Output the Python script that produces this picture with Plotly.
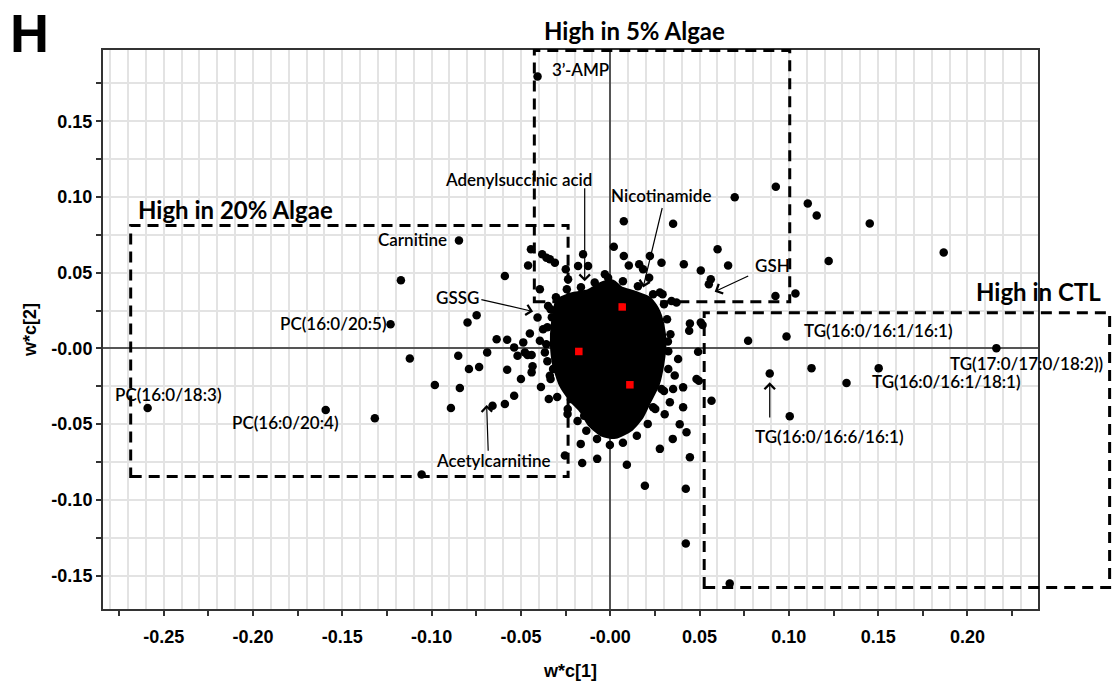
import plotly.graph_objects as go

# ---------------- data ----------------
# individual loadings (w*c[1], w*c[2])
pt_x = [-0.0407, -0.0847, -0.1172, -0.1230, -0.2590, -0.1593, -0.1318, -0.1056, -0.1122, -0.0982,
        -0.0892, -0.0842, -0.0799, -0.0748, -0.0636, -0.0577, -0.0851, -0.0689, -0.0791, -0.0734,
        -0.0577, -0.0500, -0.0590, -0.0538, -0.0450, -0.0394, -0.0538, -0.0519, -0.0463, -0.0435,
        -0.0487, -0.0407, -0.0344, -0.0254, -0.0165, -0.0157, -0.0073, -0.0239, -0.0146, -0.0165,
        -0.0114, -0.0221, -0.0338, -0.0320, -0.0366, -0.0659, -0.0444, -0.0381, -0.0357, -0.0338,
        -0.0460, -0.0590, -0.0310, -0.0249, -0.0152, -0.0180, -0.0124, -0.0394, -0.0236, -0.0030,
        -0.0012, 0.0020, 0.0076, 0.0076, 0.0104, 0.0162, 0.0184, 0.0222, 0.0218, 0.0287,
        0.0352, 0.0412, 0.0507, 0.0563, 0.0552, 0.0601, 0.0660, 0.0697, 0.0278, 0.0293,
        0.0343, 0.0371, 0.0446, 0.0442, 0.0507, 0.0517, 0.0772, 0.0492, 0.0380, 0.0483,
        0.0567, 0.0408, 0.0334, 0.0352, 0.0287, 0.0240, 0.0072, -0.0440, -0.0478, -0.0440,
        -0.0348, 0.0925, 0.1037, 0.1223, 0.0987, 0.2162, 0.0893, 0.1127, 0.1503, 0.1323,
        0.1005, 0.0408, 0.0496, 0.0427, 0.0446, 0.0927, 0.1106, 0.1156, 0.1453, 0.1867,
        0.0194, 0.0423, 0.0669, 0.0423, 0.0093, 0.0278, 0.0350, 0.0323, 0.0361, 0.0305, 0.0389]
pt_y = [0.1795, 0.0713, 0.0450, 0.0160, -0.0393, -0.0406, -0.0461, -0.0832, -0.0066, -0.0242,
        -0.0393, -0.0261, 0.0171, 0.0219, 0.0061, 0.0057, -0.0049, -0.0026, -0.0136, -0.0123,
        -0.0141, -0.0202, -0.0367, -0.0312, 0.0099, 0.0050, 0.0007, -0.0049, -0.0044, -0.0118,
        0.0040, 0.0204, -0.0334, -0.0707, -0.0630, -0.0757, -0.0729, -0.0433, -0.0444, -0.0268,
        -0.0323, -0.0334, -0.0180, -0.0136, -0.0026, -0.0378, 0.0654, 0.0621, 0.0599, 0.0588,
        0.0548, 0.0478, 0.0566, 0.0522, 0.0621, 0.0544, 0.0544, 0.0390, 0.0456, 0.0489,
        0.0467, 0.0671, 0.0840, 0.0610, 0.0548, 0.0555, 0.0522, 0.0610, 0.0467, 0.0566,
        0.0823, 0.0555, 0.0515, 0.0456, 0.0423, 0.0654, 0.0548, 0.0998, 0.0369, 0.0357,
        0.0313, 0.0303, 0.0165, 0.0116, 0.0171, 0.0155, 0.0050, -0.0022, -0.0070, -0.0202,
        -0.0345, -0.0388, -0.0355, -0.0268, -0.0268, -0.0388, -0.0411, -0.0158, -0.0026, -0.0044,
        0.0280, 0.0346, 0.0362, 0.0577, 0.0079, 0.0002, -0.0165, -0.0130, -0.0130, -0.0228,
        -0.0448, -0.0257, -0.0213, -0.0553, -0.0718, 0.1068, 0.0957, 0.0878, 0.0825, 0.0634,
        -0.0906, -0.1288, -0.1552, -0.0926, -0.0768, -0.0663, -0.0597, 0.0046, -0.0178, -0.0434, -0.0500]

# loadings crowded around the edge of the dense core
fringe_x = [-0.0334, -0.0304, -0.0243, -0.0164, -0.0087, 0.0071, 0.0155, 0.0240, 0.0301, 0.0318,
            0.0337, 0.0325, 0.0325, 0.0301, 0.0252, 0.0210, 0.0149, 0.0071, -0.0002, -0.0074,
            -0.0134, -0.0183, -0.0238, -0.0297, -0.0334, -0.0352, -0.0358, -0.0352, -0.0327, -0.0376,
            -0.0388]
fringe_y = [0.0259, 0.0338, 0.0390, 0.0404, 0.0436, 0.0443, 0.0410, 0.0357, 0.0292, 0.0193,
            0.0094, -0.0018, -0.0136, -0.0281, -0.0400, -0.0498, -0.0577, -0.0623, -0.0637, -0.0597,
            -0.0544, -0.0479, -0.0400, -0.0321, -0.0202, -0.0084, 0.0028, 0.0140, 0.0206, 0.0127,
            -0.0255]

# outline of the dense, fully overlapping core of loadings
core_x = [-0.0291, -0.0217, -0.0124, -0.0044, 0.0011, 0.0060, 0.0132, 0.0214, 0.0257, 0.0286,
          0.0298, 0.0286, 0.0261, 0.0214, 0.0170, 0.0110, 0.0030, -0.0044, -0.0112, -0.0155,
          -0.0217, -0.0273, -0.0309, -0.0321, -0.0316]
core_y = [0.0311, 0.0351, 0.0371, 0.0423, 0.0436, 0.0390, 0.0364, 0.0325, 0.0259, 0.0160,
          0.0028, -0.0103, -0.0235, -0.0347, -0.0452, -0.0531, -0.0577, -0.0564, -0.0498, -0.0413,
          -0.0334, -0.0235, -0.0103, 0.0028, 0.0160]

# class scores (red squares)
class_x = [0.0067, -0.0176, 0.0110]
class_y = [0.0274, -0.0020, -0.0240]

# ticks
x_tickvals = [-0.275, -0.25, -0.225, -0.2, -0.175, -0.15, -0.125, -0.1, -0.075, -0.05, -0.025,
              0.0, 0.025, 0.05, 0.075, 0.1, 0.125, 0.15, 0.175, 0.2, 0.225]
x_ticktext = ["", "-0.25", "", "-0.20", "", "-0.15", "", "-0.10", "", "-0.05", "",
              "-0.00", "", "0.05", "", "0.10", "", "0.15", "", "0.20", ""]
y_tickvals = [-0.15, -0.125, -0.1, -0.075, -0.05, -0.025, 0.0, 0.025, 0.05, 0.075, 0.1, 0.125, 0.15, 0.175]
y_ticktext = ["-0.15", "", "-0.10", "", "-0.05", "", "-0.00", "", "0.05", "", "0.10", "", "0.15", ""]

# metabolite labels: text, left-edge x, centre y (data units)
label_text = ["3\u2019-AMP", "Adenylsuccinic acid", "Nicotinamide", "Carnitine", "GSSG", "GSH",
              "PC(16:0/20:5)", "PC(16:0/18:3)", "PC(16:0/20:4)", "Acetylcarnitine",
              "TG(16:0/16:1/16:1)", "TG(17:0/17:0/18:2))", "TG(16:0/16:1/18:1)", "TG(16:0/16:6/16:1)"]
label_x = [-0.0338, -0.0937, -0.0008, -0.1312, -0.0987, 0.0798,
           -0.1862, -0.2783, -0.2128, -0.0987,
           0.1072, 0.1889, 0.1453, 0.0798]
label_y = [0.1839, 0.1115, 0.1009, 0.0720, 0.0338, 0.0548,
           0.0167, -0.0307, -0.0492, -0.0742,
           0.0120, -0.0097, -0.0215, -0.0584]

# arrows: tail -> tip (data units)
arrow_tail_x = [-0.0143, 0.0293, 0.0781, -0.0730, 0.0893, -0.0683]
arrow_tail_y = [0.1068, 0.0937, 0.0483, 0.0325, -0.0465, -0.0685]
arrow_tip_x = [-0.0143, 0.0184, 0.0585, -0.0432, 0.0893, -0.0692]
arrow_tip_y = [0.0443, 0.0402, 0.0375, 0.0244, -0.0224, -0.0373]

# highlighted regions: name, x0, x1, y0, y1 (data units)
region_name = ["High in 20% Algae", "High in 5% Algae", "High in CTL"]
region_x0 = [-0.2685, -0.0425, 0.0526]
region_x1 = [-0.0236, 0.1005, 0.2796]
region_y0 = [-0.0845, 0.0308, -0.1578]
region_y1 = [0.0812, 0.1966, 0.0236]
region_title_x = [-0.2655, 0.0138, 0.2035]
region_title_y = [0.0917, 0.2102, 0.0377]
region_title_anchor = ["left", "center", "left"]

# ---------------- figure ----------------
X0, X1 = -0.284, 0.2395
Y0, Y1 = -0.172, 0.197
L, R, T, B = 103, 82, 50, 79
W, H = 1120, 690
PW, PH = W - L - R, H - T - B


def xp(x):
    return (x - X0) / (X1 - X0)


def yp(y):
    return (y - Y0) / (Y1 - Y0)


fig = go.Figure()

fig.add_trace(go.Scatter(
    x=core_x + core_x[:1], y=core_y + core_y[:1], mode="lines", fill="toself",
    fillcolor="black", line=dict(color="black", width=6, shape="spline", smoothing=0.6),
    hoverinfo="skip"))

fig.add_trace(go.Scatter(
    x=pt_x + fringe_x, y=pt_y + fringe_y, mode="markers",
    marker=dict(symbol="circle", size=8.5, color="black", line=dict(width=0))))

fig.add_trace(go.Scatter(
    x=class_x, y=class_y, mode="markers",
    marker=dict(symbol="square", size=7.5, color="#ff0000", line=dict(width=0))))

tick_font = dict(family="Liberation Sans, Arial, sans-serif", size=18, color="black", weight="bold")
title_font = dict(family="Liberation Sans, Arial, sans-serif", size=18, color="black", weight="bold")

fig.update_xaxes(
    range=[X0, X1], tickmode="array", tickvals=x_tickvals, ticktext=x_ticktext,
    ticks="outside", ticklen=5, tickwidth=1.5, tickcolor="#333",
    showgrid=False,
    minor=dict(tickmode="linear", tick0=0, dtick=0.01, showgrid=True, gridcolor="#e3e3e3",
               gridwidth=1.5, ticks="inside", ticklen=0),
    zeroline=True, zerolinecolor="#555", zerolinewidth=1.5,
    showline=True, mirror=True, linecolor="#333", linewidth=2,
    tickfont=tick_font, ticklabelstandoff=5,
    title=dict(text="w*c[1]", font=title_font, standoff=19))

fig.update_yaxes(
    range=[Y0, Y1], tickmode="array", tickvals=y_tickvals, ticktext=y_ticktext,
    ticks="outside", ticklen=5, tickwidth=1.5, tickcolor="#333",
    showgrid=True, gridcolor="#e3e3e3", gridwidth=1.5,
    zeroline=True, zerolinecolor="#555", zerolinewidth=1.5,
    showline=True, mirror=True, linecolor="#333", linewidth=2,
    tickfont=tick_font,
    title=dict(text="w*c[2]", font=title_font, standoff=10))

annotations = []
label_font = dict(family="Lato, Open Sans, sans-serif", size=17, color="black", weight=600)
for t, x, y in zip(label_text, label_x, label_y):
    annotations.append(dict(text=t, x=xp(x), y=yp(y), xref="paper", yref="paper",
                            xanchor="left", yanchor="middle", showarrow=False, font=label_font))

for tx, ty, hx, hy in zip(arrow_tail_x, arrow_tail_y, arrow_tip_x, arrow_tip_y):
    annotations.append(dict(text="", x=hx, y=hy, ax=tx, ay=ty, xref="x", yref="y",
                            axref="x", ayref="y", showarrow=True, arrowhead=4, arrowsize=1.7,
                            arrowwidth=1.2, arrowcolor="black", standoff=0))

region_font = dict(family="Lato, Open Sans, sans-serif", size=24, color="black", weight="bold")
for name, x, y, anc in zip(region_name, region_title_x, region_title_y, region_title_anchor):
    annotations.append(dict(text=name, x=xp(x), y=yp(y), xref="paper", yref="paper",
                            xanchor=anc, yanchor="middle", showarrow=False, font=region_font))

annotations.append(dict(text="H", x=(8 - L) / PW, y=(H - B - 1) / PH, xref="paper", yref="paper",
                        xanchor="left", yanchor="top", showarrow=False,
                        font=dict(family="Liberation Sans, Arial, sans-serif", size=54,
                                  color="black", weight="bold")))

shapes = []
for a, b, c, d in zip(region_x0, region_x1, region_y0, region_y1):
    shapes.append(dict(type="rect", xref="paper", yref="paper", x0=xp(a), x1=xp(b), y0=yp(c), y1=yp(d),
                       line=dict(color="black", width=3, dash="11px,7px"),
                       fillcolor="rgba(0,0,0,0)", layer="above"))

fig.update_layout(
    width=W, height=H, margin=dict(l=L, r=R, t=T, b=B),
    plot_bgcolor="white", paper_bgcolor="white", showlegend=False,
    annotations=annotations, shapes=shapes)

fig.write_html("out.html")
